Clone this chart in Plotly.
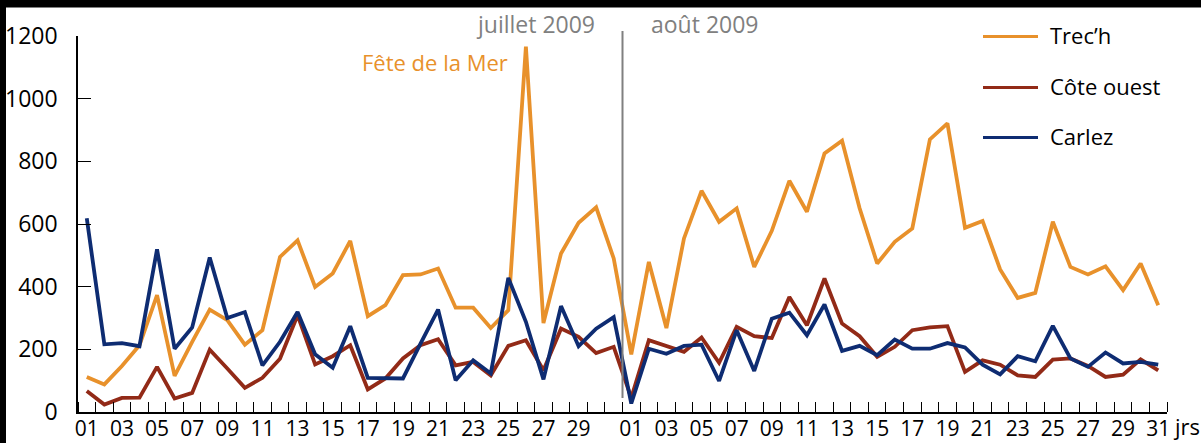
import plotly.graph_objects as go

# ---------------- data ----------------
jours_juillet = [f"{d:02d}" for d in range(1, 32)]
jours_aout = [f"{d:02d}" for d in range(1, 32)]

trech_juillet = [112, 88, 147, 213, 373, 115, 224, 327, 293, 215, 261, 495, 548, 399, 442, 546,
                 306, 341, 437, 439, 458, 333, 333, 268, 325, 1166, 284, 506, 604, 653, 490]
trech_aout = [184, 479, 268, 554, 706, 607, 650, 463, 578, 738, 639, 825, 866, 650, 474, 543,
              586, 870, 921, 588, 610, 455, 364, 380, 607, 463, 439, 465, 389, 474, 341]

cote_juillet = [67, 24, 45, 46, 144, 43, 61, 199, 139, 77, 109, 170, 309, 152, 178, 213,
                72, 107, 171, 213, 232, 149, 160, 117, 211, 229, 133, 266, 240, 188, 208]
cote_aout = [45, 229, 210, 192, 238, 157, 272, 242, 236, 367, 277, 426, 282, 242, 176, 208,
             261, 270, 274, 128, 165, 151, 117, 112, 167, 171, 147, 112, 119, 168, 133]

carlez_juillet = [618, 216, 220, 210, 519, 202, 270, 493, 300, 319, 149, 224, 319, 184, 141, 274,
                  109, 109, 107, 218, 327, 101, 165, 123, 428, 288, 104, 338, 210, 266, 303]
carlez_aout = [27, 202, 186, 211, 215, 99, 261, 131, 298, 317, 245, 343, 195, 211, 181, 231,
               202, 202, 220, 206, 151, 120, 178, 162, 275, 171, 144, 190, 155, 160, 151]

series_names = ["Trec’h", "Côte ouest", "Carlez"]
series_colors = ["#E8912B", "#922A17", "#0E2C72"]
y_ticks = [0, 200, 400, 600, 800, 1000, 1200]

# ---------------- build ----------------
n_jul = len(jours_juillet)
n_tot = n_jul + len(jours_aout)
x_idx = list(range(n_tot))
series_values = [trech_juillet + trech_aout, cote_juillet + cote_aout, carlez_juillet + carlez_aout]

tickvals, ticktext = [], []
for i, d in enumerate(jours_juillet):
    if int(d) % 2 == 1 and int(d) < 31:
        tickvals.append(i); ticktext.append(d)
for i, d in enumerate(jours_aout):
    if int(d) % 2 == 1:
        tickvals.append(n_jul + i); ticktext.append(d)

FONT = "Open Sans"
fig = go.Figure()
for name, vals, col in zip(series_names, series_values, series_colors):
    fig.add_trace(go.Scatter(x=x_idx, y=vals, mode="lines", name=name,
                             line=dict(color=col, width=3.8), showlegend=False))

W, H = 1201, 443
ml, mr, mt, mb = 78, 34, 36, 31
pw, ph = W - ml - mr, H - mt - mb

def px(xp):
    return (xp - ml) / pw

def py(yp):
    return (H - mb - yp) / ph

shapes = []
# black strips along the top and left edges (as in the original picture)
shapes.append(dict(type="rect", xref="paper", yref="paper", x0=px(0), x1=px(W),
                   y0=py(7), y1=py(0), fillcolor="#000000", line=dict(color="#000000", width=1),
                   layer="above"))
shapes.append(dict(type="rect", xref="paper", yref="paper", x0=px(0), x1=px(5.5),
                   y0=py(H), y1=py(0), fillcolor="#000000", line=dict(color="#000000", width=1),
                   layer="above"))
# month divider
shapes.append(dict(type="line", xref="paper", yref="paper", x0=n_jul / n_tot, x1=n_jul / n_tot,
                   y0=py(398), y1=py(31), line=dict(color="#808080", width=2)))

annotations = [
    dict(text="juillet 2009", xref="paper", yref="paper", x=n_jul / n_tot, y=py(23.5),
         xanchor="right", yanchor="middle", xshift=-26, showarrow=False,
         font=dict(family=FONT, size=23, color="#808080")),
    dict(text="août 2009", xref="paper", yref="paper", x=n_jul / n_tot, y=py(23.5),
         xanchor="left", yanchor="middle", xshift=26, showarrow=False,
         font=dict(family=FONT, size=23, color="#808080")),
    dict(text="Fête de la Mer", xref="paper", yref="paper", x=px(434.5), y=py(62),
         xanchor="center", yanchor="middle", showarrow=False,
         font=dict(family=FONT, size=22, color=series_colors[0])),
    dict(text="jrs", xref="paper", yref="paper", x=px(1171), y=py(426),
         xanchor="left", yanchor="middle", showarrow=False,
         font=dict(family=FONT, size=22, color="black")),
]

# legend (drawn)
leg_y = [36.5, 87.5, 137.5]
for name, col, yy in zip(series_names, series_colors, leg_y):
    shapes.append(dict(type="line", xref="paper", yref="paper", x0=px(983), x1=px(1038),
                       y0=py(yy), y1=py(yy), line=dict(color=col, width=3)))
    annotations.append(dict(text=name, xref="paper", yref="paper", x=px(1048), y=py(yy - 1.5),
                            xanchor="left", yanchor="middle", showarrow=False,
                            font=dict(family=FONT, size=22, color="black")))

fig.update_layout(
    width=W, height=H,
    margin=dict(l=ml, r=mr, t=mt, b=mb, pad=0, autoexpand=False),
    paper_bgcolor="white", plot_bgcolor="white",
    shapes=shapes, annotations=annotations,
    showlegend=False,
    xaxis=dict(range=[-0.5, n_tot - 0.5], showgrid=False, zeroline=False, automargin=False,
               showline=True, linecolor="black", linewidth=1.5,
               tickmode="array", tickvals=tickvals, ticktext=ticktext, ticks="",
               ticklabelstandoff=-3,
               tickfont=dict(family=FONT, size=21, color="black"),
               minor=dict(tickmode="array", tickvals=[i - 0.5 for i in range(n_tot + 1)],
                          ticks="inside", ticklen=10, tickwidth=1.3, tickcolor="black")),
    yaxis=dict(range=[0, 1200], showgrid=False, zeroline=False, automargin=False,
               showline=True, linecolor="black", linewidth=1.5,
               tickmode="array", tickvals=y_ticks, ticks="inside", ticklen=13,
               tickwidth=1.3, tickcolor="black", ticklabelstandoff=14,
               tickfont=dict(family=FONT, size=23, color="black")),
)

fig.write_html(
    "out.html",
    config={"displayModeBar": False},
    post_script="document.body.style.margin='0px';document.body.style.padding='0px';",
)
